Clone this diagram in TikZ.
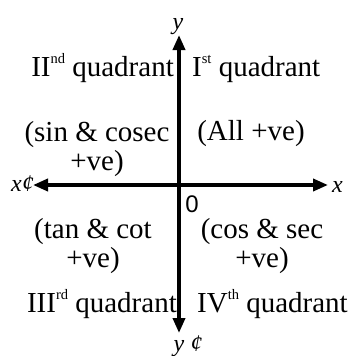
\documentclass[tikz,border=0pt]{standalone}
\usepackage{fontspec}
\setmainfont{Liberation Serif}
\newfontfamily\zerofont{Liberation Sans}
\usetikzlibrary{arrows.meta}
\newcommand{\supx}[1]{\raisebox{0.95ex}{\fontsize{14.5}{14.5}\selectfont #1}}
\tikzset{
  axis/.style={line width=3.6pt, -{Triangle[length=15pt,width=12pt]}},
  lbl/.style={inner sep=0pt, font=\fontsize{29}{29}\selectfont},
  axlbl/.style={inner sep=0pt, font=\fontsize{24}{24}\selectfont\itshape},
}
\begin{document}
\begin{tikzpicture}[x=1pt,y=-1pt]
\useasboundingbox (0,0) rectangle (353,356);
\coordinate (O) at (179,185);
\coordinate (xl) at (33,185);
\coordinate (xr) at (328,185);
\coordinate (yt) at (179,35);
\coordinate (yb) at (179,333);
\draw[axis] (O) -- (xr);
\draw[axis] (O) -- (xl);
\draw[axis] (O) -- (yt);
\draw[axis] (O) -- (yb);
\node[axlbl, anchor=base] (ylab) at (178,29) {y};
\node[axlbl, anchor=base east] (xplab) at (34,191) {x¢};
\node[axlbl, anchor=base west] (xlab) at (332,192) {x};
\node[axlbl, anchor=base] (yplab) at (188,351) {y ¢};
\node[inner sep=0pt, font=\fontsize{24}{24}\selectfont\zerofont, anchor=base] (zero) at (192,212) {0};
\node[lbl, anchor=base east] (q2) at (174,76) {II\supx{nd} quadrant};
\node[lbl, anchor=base west] (q1) at (192,76) {I\supx{st} quadrant};
\node[lbl, anchor=base] (q2a) at (97,141) {(sin \& cosec};
\node[lbl, anchor=base] (q2b) at (97,170) {+ve)};
\node[lbl, anchor=base] (q1a) at (251,140) {(All +ve)};
\node[lbl, anchor=base] (q3a) at (93,238) {(tan \& cot};
\node[lbl, anchor=base] (q3b) at (93,267) {+ve)};
\node[lbl, anchor=base] (q4a) at (262,238) {(cos \& sec};
\node[lbl, anchor=base] (q4b) at (262,267) {+ve)};
\node[lbl, anchor=base east] (q3) at (177,312) {III\supx{rd} quadrant};
\node[lbl, anchor=base west] (q4) at (197,312) {IV\supx{th} quadrant};
\end{tikzpicture}
\end{document}
